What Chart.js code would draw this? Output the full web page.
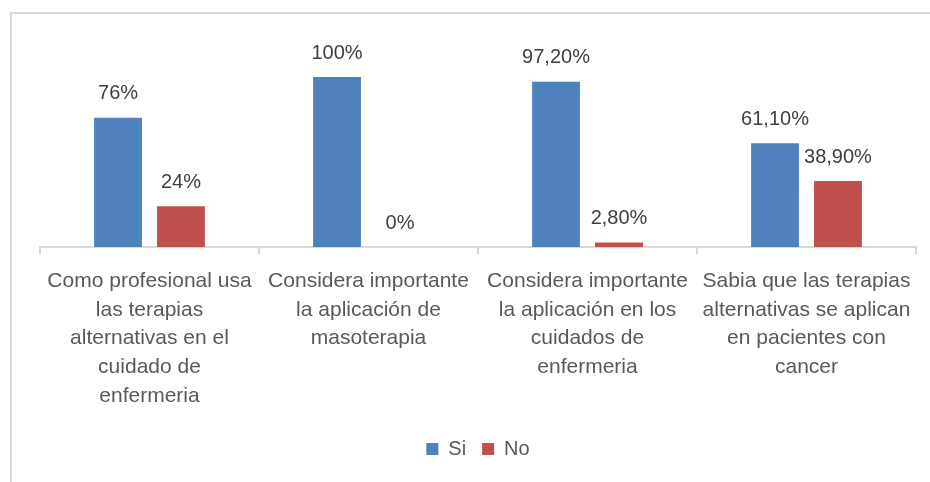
<!DOCTYPE html>
<html>
<head>
<meta charset="utf-8">
<script src="https://cdn.jsdelivr.net/npm/chart.js@4"></script>
<style>
  html, body { margin: 0; padding: 0; background: #fff; }
  #wrap { width: 930px; height: 482px; }
</style>
</head>
<body>
<div id="wrap"><canvas id="chart" width="930" height="482"></canvas></div>
<script>
const categories = [
  ["Como profesional usa", "las terapias", "alternativas en el", "cuidado de", "enfermeria"],
  ["Considera importante", "la aplicación de", "masoterapia"],
  ["Considera importante", "la aplicación en los", "cuidados de", "enfermeria"],
  ["Sabia que las terapias", "alternativas se aplican", "en pacientes con", "cancer"]
];
const siValues = [76, 100, 97.2, 61.1];
const noValues = [24, 0, 2.8, 38.9];

const fmt = v => (Number.isInteger(v) ? String(v) : v.toFixed(2).replace(".", ",")) + "%";

// light frame round the chart, like the Excel chart area
const framePlugin = {
  id: "frame",
  beforeDraw(chart) {
    const ctx = chart.ctx;
    ctx.save();
    ctx.fillStyle = "#ffffff";
    ctx.fillRect(0, 0, chart.width, chart.height);
    ctx.strokeStyle = "#d9d9d9";
    ctx.lineWidth = 2;
    ctx.strokeRect(11, 13, 1000, 1000);
    ctx.restore();
  }
};

// value labels above each bar
const valueLabels = {
  id: "valueLabels",
  afterDatasetsDraw(chart) {
    const ctx = chart.ctx;
    ctx.save();
    ctx.font = "20px 'Liberation Sans', Arial, sans-serif";
    ctx.fillStyle = "#404040";
    ctx.textAlign = "center";
    ctx.textBaseline = "middle";
    chart.data.datasets.forEach((ds, i) => {
      chart.getDatasetMeta(i).data.forEach((bar, j) => {
        ctx.fillText(fmt(ds.data[j]), bar.x, bar.y - 24);
      });
    });
    ctx.restore();
  }
};

new Chart(document.getElementById("chart"), {
  type: "bar",
  data: {
    labels: categories,
    datasets: [
      { label: "Si", data: siValues, backgroundColor: "#4f81bd", barPercentage: 0.76, categoryPercentage: 0.575 },
      { label: "No", data: noValues, backgroundColor: "#c0504d", barPercentage: 0.76, categoryPercentage: 0.575 }
    ]
  },
  options: {
    responsive: false,
    animation: false,
    layout: { padding: { left: 40, right: 14, top: 43, bottom: 13 } },
    scales: {
      y: { display: false, min: 0, max: 120 },
      x: {
        border: { display: true, color: "#d9d9d9", width: 2 },
        grid: { offset: true, drawOnChartArea: false, drawTicks: true, tickLength: 7, color: "#d9d9d9", lineWidth: 2 },
        ticks: {
          autoSkip: false,
          maxRotation: 0,
          padding: 13,
          color: "#595959",
          font: { family: "'Liberation Sans', Arial, sans-serif", size: 21, lineHeight: 1.36 }
        }
      }
    },
    plugins: {
      tooltip: { enabled: false },
      legend: {
        position: "bottom",
        labels: {
          boxWidth: 12,
          boxHeight: 12,
          padding: 16,
          color: "#595959",
          font: { family: "'Liberation Sans', Arial, sans-serif", size: 20 }
        }
      }
    }
  },
  plugins: [framePlugin, valueLabels]
});
</script>
</body>
</html>
